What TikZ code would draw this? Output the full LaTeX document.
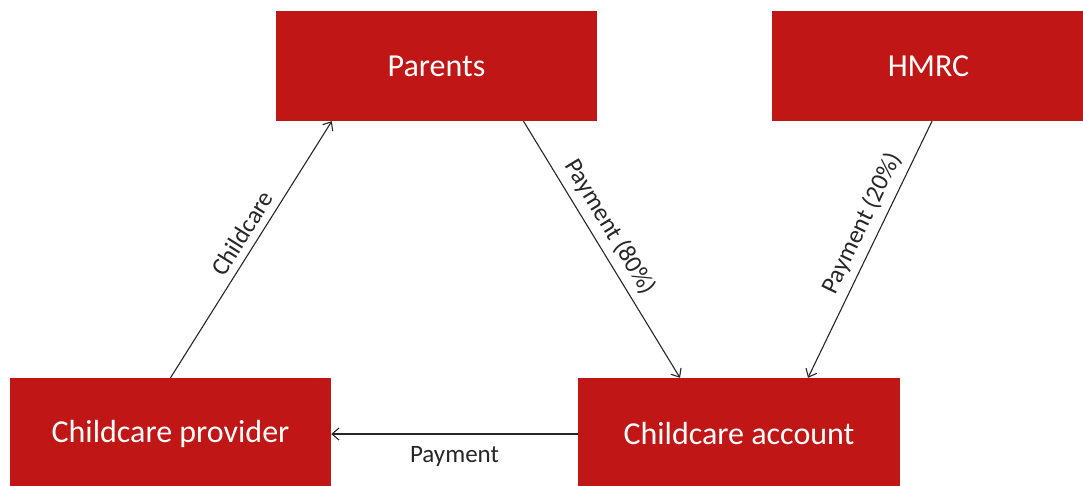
\documentclass[tikz,border=0pt]{standalone}
\usepackage{fontspec}
\setmainfont{Carlito}
\usetikzlibrary{arrows.meta,calc}
\definecolor{boxred}{RGB}{192,22,22}
\tikzset{
  redbox/.style={fill=boxred, draw=none, text=white, font=\fontsize{32}{36}\selectfont, inner sep=0pt},
  flow/.style={draw=black!85, line width=1.1pt, -{Straight Barb[length=7pt,width=12pt,line width=1.1pt]}},
  elabel/.style={font=\fontsize{25}{28}\selectfont, text=black!85, sloped, inner sep=7pt}
}
\begin{document}
\begin{tikzpicture}[x=1pt,y=-1pt]
\useasboundingbox (0,0) rectangle (1083,486);
\begin{scope}
\clip (0,0) rectangle (1083,486);
\node[redbox, minimum width=321pt, minimum height=110pt] (par) at (436.5,66) {Parents};
\node[redbox, minimum width=313pt, minimum height=110pt] (hmrc) at (928.5,66) {HMRC};
\node[redbox, minimum width=321pt, minimum height=112pt] (prov) at (170.5,434) {Childcare provider};
\node[redbox, minimum width=322pt, minimum height=112pt] (acc) at (739,434) {Childcare account};
\end{scope}
\draw[flow] (prov.north) -- ($(par.south west)+(56,0)$)
  node[elabel, above, pos=0.53] {Childcare};
\draw[flow] ($(par.south)+(87,0)$) -- ($(acc.north)+(-59,0)$)
  node[elabel, above, pos=0.45] {Payment (80\%)};
\draw[flow] ($(hmrc.south)+(3.5,0)$) -- ($(acc.north)+(69,0)$)
  node[elabel, above, pos=0.43] {Payment (20\%)};
\draw[flow] (acc.west) -- (prov.east)
  node[font=\fontsize{25}{28}\selectfont, text=black!85, below, inner sep=12pt, midway] {Payment};
\end{tikzpicture}
\end{document}
